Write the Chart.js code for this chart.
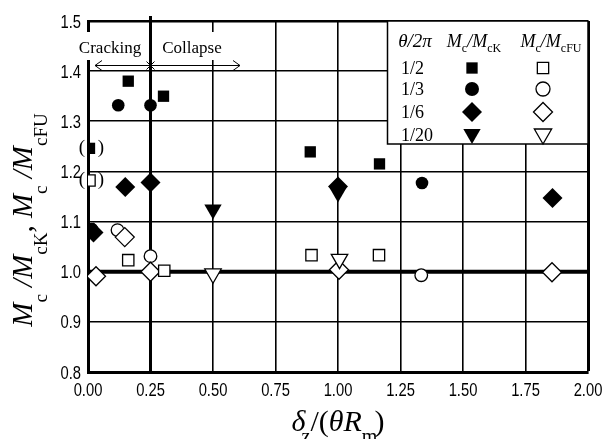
<!DOCTYPE html>
<html>
<head>
<meta charset="utf-8">
<script src="https://cdn.jsdelivr.net/npm/chart.js@4.4.1/dist/chart.umd.min.js"></script>
<style>
  html, body { margin: 0; padding: 0; background: #fff; }
  #wrap { width: 606px; height: 439px; }
</style>
</head>
<body>
<div id="wrap"><canvas id="c" width="606" height="439"></canvas></div>
<script>
// ---- axis ticks ----
const xTickValues = [0, 0.25, 0.5, 0.75, 1.0, 1.25, 1.5, 1.75, 2.0];
const yTickValues = [0.8, 0.9, 1.0, 1.1, 1.2, 1.3, 1.4, 1.5];
const legendRows = ['1/2', '1/3', '1/6', '1/20'];

// ---- Mc/McK (filled markers) ----
const half_McK_x = [0.006, 0.161, 0.302, 0.889, 1.166];
const half_McK_y = [1.246, 1.380, 1.350, 1.239, 1.215];
const third_McK_x = [0.016, 0.121, 0.250, 1.336];
const third_McK_y = [1.085, 1.332, 1.332, 1.177];
const sixth_McK_x = [0.022, 0.149, 0.250, 1.000, 1.858];
const sixth_McK_y = [1.078, 1.169, 1.178, 1.170, 1.147];
const twentieth_McK_x = [0.500, 1.000];
const twentieth_McK_y = [1.124, 1.158];

// ---- Mc/McFU (open markers) ----
const half_McFU_x = [0.006, 0.161, 0.305, 0.894, 1.164];
const half_McFU_y = [1.182, 1.023, 1.002, 1.033, 1.033];
const third_McFU_x = [0.118, 0.250, 1.333];
const third_McFU_y = [1.083, 1.031, 0.993];
const sixth_McFU_x = [0.032, 0.147, 0.250, 1.004, 1.856];
const sixth_McFU_y = [0.991, 1.069, 1.000, 1.004, 0.999];
const twentieth_McFU_x = [0.500, 1.006];
const twentieth_McFU_y = [0.996, 1.025];

function pts(xs, ys) { return xs.map((x, i) => ({ x: x, y: ys[i] })); }

const serif = '"Liberation Serif", "Times New Roman", serif';
const sans = '"Liberation Sans", Arial, sans-serif';

function ds(label, data, style, radius, filled, order, rotation) {
  return {
    label: label,
    data: data,
    pointStyle: style,
    pointRadius: radius,
    pointHoverRadius: radius,
    rotation: rotation || 0,
    backgroundColor: filled ? '#000' : '#fff',
    borderColor: '#000',
    borderWidth: filled ? 0 : 1.3,
    showLine: false,
    clip: 0,
    order: order
  };
}

const datasets = [
  ds('1/2 McK', pts(half_McK_x, half_McK_y), 'rect', 8, true, 5),
  ds('1/3 McK', pts(third_McK_x, third_McK_y), 'circle', 6.3, true, 6),
  ds('1/6 McK', pts(sixth_McK_x, sixth_McK_y), 'rectRot', 10, true, 4),
  ds('1/20 McK', pts(twentieth_McK_x, twentieth_McK_y), 'triangle', 10, true, 7, 180),
  ds('1/2 McFU', pts(half_McFU_x, half_McFU_y), 'rect', 8, false, 1),
  ds('1/3 McFU', pts(third_McFU_x, third_McFU_y), 'circle', 6.3, false, 3),
  ds('1/6 McFU', pts(sixth_McFU_x, sixth_McFU_y), 'rectRot', 9.5, false, 2),
  ds('1/20 McFU', pts(twentieth_McFU_x, twentieth_McFU_y), 'triangle', 9.5, false, 0, 180)
];

function richWidth(ctx, parts) {
  let w = 0;
  parts.forEach(p => { ctx.font = (p.italic ? 'italic ' : '') + p.size + 'px ' + serif; w += ctx.measureText(p.t).width + (p.dx || 0); });
  return w;
}
function drawRich(ctx, parts, cx, y) {
  let x = cx - richWidth(ctx, parts) / 2;
  ctx.textAlign = 'left';
  ctx.textBaseline = 'alphabetic';
  parts.forEach(p => {
    ctx.font = (p.italic ? 'italic ' : '') + p.size + 'px ' + serif;
    x += (p.dx || 0);
    ctx.fillText(p.t, x, y + (p.dy || 0));
    x += ctx.measureText(p.t).width;
  });
}

function marker(ctx, style, r, x, y, filled, rotation) {
  ctx.save();
  ctx.fillStyle = filled ? '#000' : '#fff';
  ctx.strokeStyle = '#000';
  ctx.lineWidth = 1.3;
  const opts = { pointStyle: style, radius: r, rotation: rotation || 0, borderWidth: filled ? 0 : 1.3 };
  if (Chart.helpers && Chart.helpers.drawPoint) {
    Chart.helpers.drawPoint(ctx, opts, x, y);
  }
  ctx.restore();
}

// condensed sans text (tick labels)
function condText(ctx, t, x, y, align) {
  ctx.save();
  ctx.font = '18px ' + sans;
  const sx = 0.82;
  const w = ctx.measureText(t).width * sx;
  let left = x;
  if (align === 'center') left = x - w / 2;
  else if (align === 'right') left = x - w;
  ctx.translate(left, y);
  ctx.scale(sx, 1);
  ctx.textAlign = 'left';
  ctx.textBaseline = 'alphabetic';
  ctx.fillStyle = '#000';
  ctx.fillText(t, 0, 0);
  ctx.restore();
}

const decor = {
  id: 'decor',
  beforeDatasetsDraw(chart) {
    const ctx = chart.ctx, xs = chart.scales.x, ys = chart.scales.y, a = chart.chartArea;
    ctx.save();
    // white boxes behind the annotation words
    ctx.fillStyle = '#fff';
    ctx.fillRect(76, 32, 68, 28);
    ctx.fillRect(158, 32, 68, 28);
    // thick vertical line at 0.25, extending above the frame
    const xq = xs.getPixelForValue(0.25);
    ctx.strokeStyle = '#000';
    ctx.lineWidth = 3;
    ctx.beginPath(); ctx.moveTo(xq, 16); ctx.lineTo(xq, a.bottom); ctx.stroke();
    // thick horizontal line at 1.0
    const y1 = ys.getPixelForValue(1.0);
    ctx.lineWidth = 4;
    ctx.beginPath(); ctx.moveTo(a.left, y1); ctx.lineTo(a.right, y1); ctx.stroke();

    // Cracking / Collapse annotation
    ctx.fillStyle = '#000';
    ctx.font = '17px ' + serif;
    ctx.textAlign = 'center';
    ctx.textBaseline = 'alphabetic';
    ctx.fillText('Cracking', 110, 53);
    ctx.fillText('Collapse', 192, 53);
    ctx.lineWidth = 1;
    const ay = 65.5;
    ctx.beginPath();
    ctx.moveTo(95, ay); ctx.lineTo(240, ay);
    ctx.moveTo(102, ay - 5); ctx.lineTo(95, ay); ctx.lineTo(102, ay + 5);
    ctx.moveTo(233, ay - 5); ctx.lineTo(240, ay); ctx.lineTo(233, ay + 5);
    ctx.moveTo(xq - 4, ay - 4); ctx.lineTo(xq + 4, ay + 4);
    ctx.moveTo(xq + 4, ay - 4); ctx.lineTo(xq - 4, ay + 4);
    ctx.stroke();

    // parentheses around the points at the left edge
    ctx.font = '19px ' + serif;
    ctx.textBaseline = 'middle';
    [1.246, 1.182].forEach(v => {
      const py = ys.getPixelForValue(v);
      ctx.fillText('(', 82, py);
      ctx.fillText(')', 101, py);
    });

    // legend box
    const lx = 387.5, ly = a.top, lw = a.right - lx, lh = 144 - a.top;
    ctx.fillStyle = '#fff';
    ctx.fillRect(lx, ly, lw, lh);
    ctx.strokeStyle = '#000';
    ctx.lineWidth = 1.5;
    ctx.strokeRect(lx, ly, lw, lh);

    // tick labels
    xTickValues.forEach(v => condText(ctx, v.toFixed(2), xs.getPixelForValue(v), 396, 'center'));
    yTickValues.forEach(v => condText(ctx, v.toFixed(1), 81, ys.getPixelForValue(v) + 6.5, 'right'));
    ctx.restore();
  },
  afterDatasetsDraw(chart) {
    const ctx = chart.ctx;
    ctx.save();
    ctx.fillStyle = '#000';
    drawRich(ctx, [{ t: 'θ/2π', size: 19, italic: true }], 415, 47);
    drawRich(ctx, [
      { t: 'M', size: 18, italic: true }, { t: 'c', size: 12, dy: 5 },
      { t: '/M', size: 18, italic: true }, { t: 'cK', size: 12, dy: 5 }
    ], 474, 47);
    drawRich(ctx, [
      { t: 'M', size: 18, italic: true }, { t: 'c', size: 12, dy: 5 },
      { t: '/M', size: 18, italic: true }, { t: 'cFU', size: 12, dy: 5 }
    ], 551, 47);
    const rowY = [68, 89, 112, 135];
    const styles = [['rect', 8, 0], ['circle', 7, 0], ['rectRot', 10, 0], ['triangle', 10, 180]];
    legendRows.forEach((t, i) => {
      ctx.fillStyle = '#000';
      ctx.font = '18px ' + serif;
      ctx.textAlign = 'left';
      ctx.textBaseline = 'middle';
      ctx.fillText(t, 401, rowY[i] + 1);
      const s = styles[i];
      const yy = s[0] === 'triangle' ? rowY[i] - 1 : rowY[i];
      marker(ctx, s[0], s[1], 472, yy, true, s[2]);
      marker(ctx, s[0], s[0] === 'rectRot' ? 9.5 : s[1], 543, yy, false, s[2]);
    });
    ctx.restore();
  },
  afterDraw(chart) {
    const ctx = chart.ctx;
    ctx.save();
    ctx.fillStyle = '#000';
    drawRich(ctx, [
      { t: 'δ', size: 30, italic: true }, { t: 'z', size: 20, dy: 12, dx: -4 },
      { t: '/(', size: 30 }, { t: 'θR', size: 30, italic: true },
      { t: 'm', size: 20, dy: 12 }, { t: ')', size: 30, dx: -3 }
    ], 338, 431);
    ctx.translate(32, 220);
    ctx.rotate(-Math.PI / 2);
    drawRich(ctx, [
      { t: 'M', size: 29, italic: true }, { t: 'c', size: 19, dy: 15 },
      { t: ' /M', size: 29, italic: true }, { t: 'cK', size: 19, dy: 15 },
      { t: ', ', size: 29 },
      { t: 'M', size: 29, italic: true }, { t: 'c', size: 19, dy: 15 },
      { t: ' /M', size: 29, italic: true }, { t: 'cFU', size: 19, dy: 15 }
    ], 0, 0);
    ctx.restore();
  }
};

function gridWidthX(c) {
  const v = c.tick ? c.tick.value : null;
  if (v === 2) return 3;
  return 1.6;
}
function gridWidthY(c) {
  const v = c.tick ? c.tick.value : null;
  if (v !== null && Math.abs(v - 1.5) < 1e-9) return 2.5;
  return 1.6;
}

new Chart(document.getElementById('c'), {
  type: 'scatter',
  data: { datasets: datasets },
  options: {
    responsive: false,
    animation: false,
    events: [],
    layout: { padding: { top: 21, right: 18, left: 0, bottom: 0 } },
    plugins: { legend: { display: false }, tooltip: { enabled: false }, title: { display: false } },
    scales: {
      x: {
        type: 'linear', min: 0, max: 2,
        afterBuildTicks: s => { s.ticks = xTickValues.map(v => ({ value: v })); },
        afterFit: s => { s.height = 67; },
        ticks: { display: false },
        grid: { color: '#000', lineWidth: gridWidthX, drawTicks: false },
        border: { display: true, color: '#000', width: 3 }
      },
      y: {
        type: 'linear', min: 0.8, max: 1.5,
        afterBuildTicks: s => { s.ticks = yTickValues.map(v => ({ value: v })); },
        afterFit: s => { s.width = 88; },
        ticks: { display: false },
        grid: { color: '#000', lineWidth: gridWidthY, drawTicks: false },
        border: { display: true, color: '#000', width: 3 }
      }
    }
  },
  plugins: [decor]
});
</script>
</body>
</html>
